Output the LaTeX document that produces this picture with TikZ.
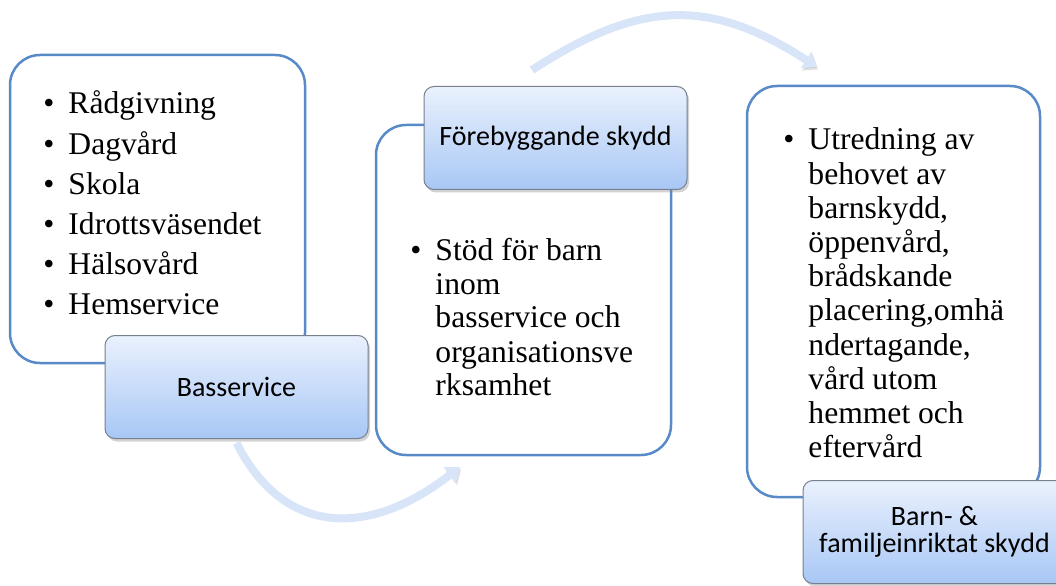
\documentclass[tikz,border=0pt]{standalone}
\usepackage{fontspec}
\setmainfont{Liberation Serif}
\newfontfamily\labfont{Carlito}
\usepackage{tikz}
\usetikzlibrary{calc,shadows,arrows.meta}

\definecolor{boxline}{RGB}{88,138,200}
\definecolor{labtop}{RGB}{234,241,253}
\definecolor{labbot}{RGB}{168,199,245}
\definecolor{labline}{RGB}{118,128,142}
\definecolor{flowcol}{RGB}{216,228,248}

\begin{document}
\begin{tikzpicture}[x=0.5pt,y=0.5pt,
	panel/.style={draw=boxline,line width=1.25pt,rounded corners=15pt,fill=white},
	tag/.style={draw=labline,line width=0.5pt,rounded corners=5pt,top color=labtop,bottom color=labbot,
		minimum width=131.5pt,minimum height=51.5pt,align=center,inner sep=2pt,
		font=\labfont\fontsize{14}{13.2}\selectfont,
		drop shadow={opacity=0.35,shadow xshift=1pt,shadow yshift=-1.5pt}},
	punkt/.style={anchor=base west,inner sep=0pt},
	flow/.style={line width=4pt,draw=flowcol,-{Triangle[width=9.5pt,length=6.5pt]},
		preaction={draw=black!45,opacity=0.25,transform canvas={xshift=0.6pt,yshift=-1.2pt}}}]
	\useasboundingbox (0,0) rectangle (1056,585);
	%
	\node[panel,minimum width=147.5pt,minimum height=154pt]   (box1) at (157.5,376) {};
	\node[panel,minimum width=147.5pt,minimum height=165pt]   (box2) at (523.5,295) {};
	\node[panel,minimum width=146.5pt,minimum height=205.5pt] (box3) at (893.5,293.5) {};
	%
	\node[tag] (lab1) at (236.5,198) {Basservice};
	\node[tag] (lab2) at (555.5,447) {Förebyggande skydd};
	\node[tag] (lab3) at (934.5,53)  {Barn- \&\\familjeinriktat skydd};
	
	%bullet texts
	\node[punkt,font=\fontsize{15.8}{20.1}\selectfont] (txt1) at (43,471)
		{\begin{tabular}[t]{@{}l@{\hspace{7pt}}l@{}}
		\textbullet & Rådgivning\\
		\textbullet & Dagvård\\
		\textbullet & Skola\\
		\textbullet & Idrottsväsendet\\
		\textbullet & Hälsovård\\
		\textbullet & Hemservice
		\end{tabular}};
	\node[punkt,font=\fontsize{15.8}{17}\selectfont] (txt2) at (410,325)
		{\begin{tabular}[t]{@{}l@{\hspace{7pt}}l@{}}
		\textbullet & Stöd för barn\\
		 & inom\\
		 & basservice och\\
		 & organisationsve\\
		 & rksamhet
		\end{tabular}};
	\node[punkt,font=\fontsize{15.8}{17.1}\selectfont] (txt3) at (783,435)
		{\begin{tabular}[t]{@{}l@{\hspace{7pt}}l@{}}
		\textbullet & Utredning av\\
		 & behovet av\\
		 & barnskydd,\\
		 & öppenvård,\\
		 & brådskande\\
		 & placering,omhä\\
		 & ndertagande,\\
		 & vård utom\\
		 & hemmet och\\
		 & eftervård
		\end{tabular}};
	
	%arrows
	\coordinate (in2) at (460,118);
	\coordinate (out2) at (532,515);
	\coordinate (in3) at (817,518);
	\draw[flow] ($(lab1.south)+(0,-4)$) to[out=-63,in=-142,looseness=1.25] (in2);	%1--2
	\draw[flow] (out2) to[out=33,in=147,looseness=1.15] (in3);						%2--3
	
	%\draw[help lines,step=50] (0,0) grid (1056,585);
\end{tikzpicture}
\end{document}
